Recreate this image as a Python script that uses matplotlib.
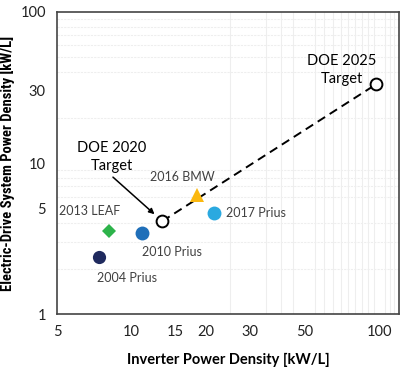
import numpy as np
import matplotlib
matplotlib.use("Agg")
import matplotlib.pyplot as plt
from matplotlib import font_manager
from matplotlib.ticker import FixedLocator, NullFormatter

# dados
names = ["2004 Prius", "2013 LEAF", "2010 Prius", "2016 BMW", "2017 Prius"]
inverter = [7.4, 8.1, 11.0, 18.3, 21.5]
edrive = [2.37, 3.55, 3.45, 6.1, 4.64]
colors = ["#1f2a5e", "#2db34a", "#1f6fb9", "#fbb80f", "#2aa9e0"]
markers = ["o", "D", "o", "^", "o"]
sizes = [9.5, 7.5, 10, 10.5, 10]
# deslocamento dos rótulos (pontos)
label_off = [(20, -15), (-14, 14), (22, -14), (-10, 13), (8.6, 0)]
label_ha = ["center", "center", "center", "center", "left"]

target_names = ["DOE 2020\nTarget", "DOE 2025\nTarget"]
target_x = [13.3, 97.0]
target_y = [4.12, 33.2]

xticks = [5, 10, 15, 20, 30, 50, 100]
yticks = [1, 5, 10, 30, 100]


def main():
    plt.rcParams["font.family"] = ["Lato", "DejaVu Sans"]
    fig = plt.figure(figsize=(4.0, 3.69), dpi=100)
    ax = fig.add_axes([0.1425, 0.149, 0.855, 0.8185])

    ax.set_xscale("log")
    ax.set_yscale("log")
    ax.set_xlim(5, 120)
    ax.set_ylim(1, 100)

    # grade secundária
    ax.xaxis.set_minor_locator(FixedLocator(np.arange(5, 121, 5)))
    ax.xaxis.set_minor_formatter(NullFormatter())
    ax.grid(True, which="minor", axis="x", color="#eeeeee", lw=0.8)
    ax.grid(True, which="minor", axis="y", color="#eeeeee", lw=0.8, ls=(0, (2, 1)))
    ax.set_xticks(xticks)
    ax.set_xticklabels([str(t) for t in xticks])
    ax.set_yticks(yticks)
    ax.set_yticklabels([str(t) for t in yticks])
    ax.tick_params(which="both", length=0, labelsize=10.5, colors="#222222", pad=8)
    ax.set_axisbelow(True)

    for s in ax.spines.values():
        s.set_color("#444444")
        s.set_linewidth(1.2)

    # linha tracejada entre as metas
    ax.plot(target_x, target_y, color="black", lw=1.4, ls=(0, (4.5, 2.8)), zorder=2)

    for n, x, y, c, m, ms, off, ha in zip(names, inverter, edrive, colors, markers,
                                          sizes, label_off, label_ha):
        ax.plot(x, y, marker=m, color=c, ms=ms, mew=0, ls="none", zorder=3)
        ax.annotate(n, (x, y), xytext=off, textcoords="offset points",
                    ha=ha, va="center", fontsize=9, color="#404040")

    ax.plot(target_x, target_y, marker="o", ls="none", ms=8.5, mfc="white",
            mec="black", mew=1.4, zorder=4)

    ax.annotate(target_names[0], (target_x[0], target_y[0]), xytext=(-36.4, 46.4),
                textcoords="offset points", ha="center", va="center",
                fontsize=10.5, color="black", linespacing=1.35)
    ax.annotate("", (target_x[0], target_y[0]), xytext=(-35.5, 31.7),
                textcoords="offset points",
                arrowprops=dict(arrowstyle="-|>", color="black", lw=1.1,
                                shrinkA=0, shrinkB=7.5, mutation_scale=8))
    ax.annotate(target_names[1], (target_x[1], target_y[1]), xytext=(-25, 10.3),
                textcoords="offset points", ha="center", va="center",
                fontsize=10.5, color="black", linespacing=1.35)

    ax.set_xlabel("Inverter Power Density [kW/L]", fontsize=10.5,
                  fontweight="bold", labelpad=10)

    # rótulo y estreito: fonte condensada se houver, senão reduz o tamanho
    names_inst = {f.name for f in font_manager.fontManager.ttflist}
    narrow = [f for f in ["Roboto Condensed", "Liberation Sans Narrow",
                          "Open Sans Condensed"] if f in names_inst]
    ylab = ax.set_ylabel("Electric-Drive System Power Density [kW/L]",
                         fontsize=10.5, fontweight="bold",
                         family=narrow[:1] + ["Lato"])
    ax.yaxis.set_label_coords(-0.123, 0.5)
    fig.canvas.draw()
    w = ylab.get_window_extent().height
    if w > 301:
        ylab.set_fontsize(10.5 * 301 / w)

    fig.savefig("out.png", dpi=100)


if __name__ == "__main__":
    main()
